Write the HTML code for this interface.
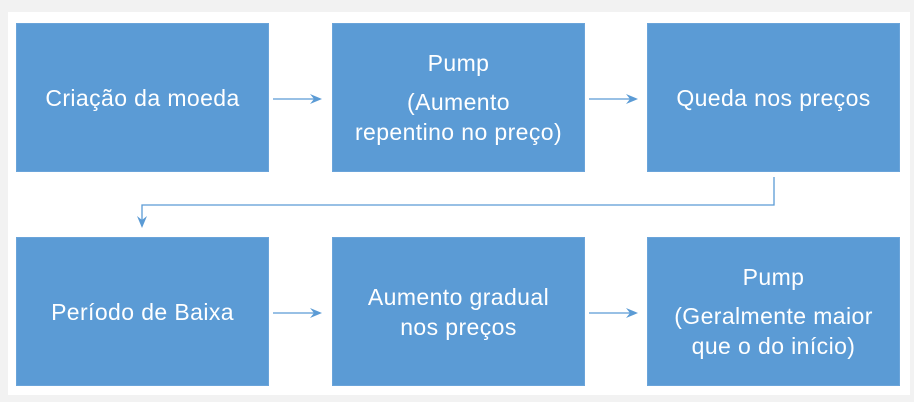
<!DOCTYPE html>
<html><head><meta charset="utf-8"><style>
html,body{margin:0;padding:0;}
body{width:914px;height:402px;background:#f2f2f2;position:relative;overflow:hidden;font-family:"Liberation Sans",sans-serif;}
.w{position:absolute;left:8px;top:12px;width:902px;height:383px;background:#fff;}
.b{position:absolute;width:253px;height:149px;background:#5b9bd5;border:1px solid #6aa4da;box-sizing:border-box;color:#fff;font-size:23px;letter-spacing:0.4px;display:flex;flex-direction:column;justify-content:center;align-items:center;text-align:center;line-height:30px;white-space:nowrap;}
svg{position:absolute;left:0;top:0;}
</style></head><body>
<div class="w"></div>
<div class="b" style="left:16px;top:23px;">Criação da moeda</div>
<div class="b" style="left:332px;top:23px;"><div style="margin-bottom:9px">Pump</div><div>(Aumento<br>repentino no preço)</div></div>
<div class="b" style="left:647px;top:23px;">Queda nos preços</div>
<div class="b" style="left:16px;top:237px;">Período de Baixa</div>
<div class="b" style="left:332px;top:237px;">Aumento gradual<br>nos preços</div>
<div class="b" style="left:647px;top:237px;"><div style="margin-bottom:9px">Pump</div><div>(Geralmente maior<br>que o do início)</div></div>
<svg width="914" height="402">
<g stroke="#5b9bd5" stroke-width="1.3" fill="none">
<line x1="273" y1="99" x2="320" y2="99"/>
<line x1="589" y1="99" x2="636" y2="99"/>
<line x1="273" y1="313" x2="320" y2="313"/>
<line x1="589" y1="313" x2="636" y2="313"/>
<polyline points="774,177 774,205 142,205 142,226"/>
</g>
<g fill="#5b9bd5">
<polygon points="322,99 310,94 314,99 310,104"/>
<polygon points="638,99 626,94 630,99 626,104"/>
<polygon points="322,313 310,308 314,313 310,318"/>
<polygon points="638,313 626,308 630,313 626,318"/>
<polygon points="142,228 137,216 142,220 147,216"/>
</g>
</svg>
</body></html>
